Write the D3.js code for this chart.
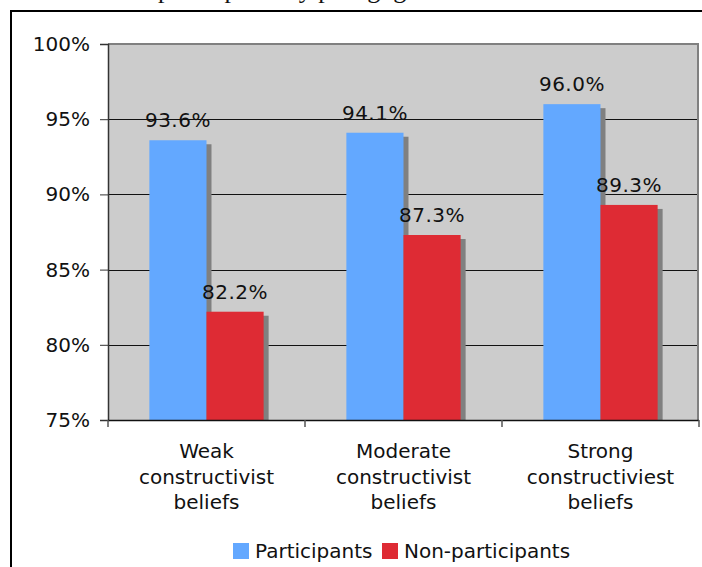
<!DOCTYPE html>
<html>
<head>
<meta charset="utf-8">
<script src="https://cdn.jsdelivr.net/npm/d3@7"></script>
<style>
  body { margin: 0; background: #fff; }
  svg text { font-family: "DejaVu Sans", Verdana, sans-serif; fill: #111; }
</style>
</head>
<body>
<script>
// chart data
const categories = [
    ['Weak', 'constructivist', 'beliefs'],
    ['Moderate', 'constructivist', 'beliefs'],
    ['Strong', 'constructiviest', 'beliefs']
];
const seriesNames = ['Participants', 'Non-participants'];
const participants = [93.6, 94.1, 96.0];
const nonParticipants = [82.2, 87.3, 89.3];
const yTicks = [75, 80, 85, 90, 95, 100];
const colors = ['#63a8ff', '#de2b34'];

const width = 702, height = 567;
const plot = { left: 108, right: 699, top: 44, bottom: 420 };

let svg = d3.select('body')
    .append('svg')
    .attr('width', width)
    .attr('height', height);

// cut-off title at the very top (only descenders show)
svg.append('text')
    .attr('x', 151)
    .attr('y', -2)
    .attr('text-anchor', 'end')
    .style('font-family', '"Liberation Serif", "Times New Roman", serif')
    .style('font-size', '26px')
    .text('Retention rates of');
svg.append('text')
    .attr('x', 158)
    .attr('y', -2)
    .style('font-family', '"Liberation Serif", "Times New Roman", serif')
    .style('font-size', '26px')
    .text('participants by pedagogical beliefs');

// outer frame
svg.append('rect')
    .attr('x', 11)
    .attr('y', 11)
    .attr('width', 720)
    .attr('height', 600)
    .attr('fill', 'none')
    .attr('stroke', '#000')
    .attr('stroke-width', 2);

const x0 = d3.scaleBand()
    .domain(d3.range(categories.length))
    .range([plot.left, plot.right]);

const x1 = d3.scaleBand()
    .domain(seriesNames)
    .range([x0.bandwidth() * 0.21, x0.bandwidth() * 0.79]);

const y = d3.scaleLinear()
    .domain([75, 100])
    .range([plot.bottom, plot.top]);

// plot background
svg.append('rect')
    .attr('x', plot.left)
    .attr('y', plot.top)
    .attr('width', plot.right - plot.left)
    .attr('height', plot.bottom - plot.top)
    .attr('fill', '#cccccc');

// grid lines
svg.append('g')
    .selectAll('line')
    .data(yTicks.filter(t => t > 75 && t < 100))
    .enter()
    .append('line')
    .attr('x1', plot.left)
    .attr('x2', plot.right)
    .attr('y1', d => Math.round(y(d)) + 0.5)
    .attr('y2', d => Math.round(y(d)) + 0.5)
    .attr('stroke', '#111')
    .attr('stroke-width', 1);

// plot border top / right
svg.append('line')
    .attr('x1', plot.left).attr('x2', plot.right)
    .attr('y1', plot.top).attr('y2', plot.top)
    .attr('stroke', '#808080').attr('stroke-width', 2);
svg.append('line')
    .attr('x1', plot.right - 1).attr('x2', plot.right - 1)
    .attr('y1', plot.top).attr('y2', plot.bottom)
    .attr('stroke', '#808080').attr('stroke-width', 2);

const rows = categories.map((c, i) => ({
    i: i,
    values: [participants[i], nonParticipants[i]]
}));

let groups = svg.append('g')
    .selectAll('g')
    .data(rows)
    .enter()
    .append('g')
    .attr('transform', d => `translate(${x0(d.i)},0)`);

// shadows first
groups.selectAll('rect.shadow')
    .data(d => d.values.map((v, k) => ({ name: seriesNames[k], v: v, k: k })))
    .enter()
    .append('rect')
    .attr('class', 'shadow')
    .attr('x', d => x1(d.name) + 5)
    .attr('y', d => y(d.v) + 4)
    .attr('width', x1.bandwidth())
    .attr('height', d => plot.bottom - y(d.v) - 4)
    .attr('fill', '#808080');

groups.selectAll('rect.bar')
    .data(d => d.values.map((v, k) => ({ name: seriesNames[k], v: v, k: k })))
    .enter()
    .append('rect')
    .attr('class', 'bar')
    .attr('x', d => x1(d.name))
    .attr('y', d => y(d.v))
    .attr('width', x1.bandwidth())
    .attr('height', d => plot.bottom - y(d.v))
    .attr('fill', d => colors[d.k]);

groups.selectAll('text.value')
    .data(d => d.values.map((v, k) => ({ name: seriesNames[k], v: v, k: k })))
    .enter()
    .append('text')
    .attr('class', 'value')
    .attr('x', d => x1(d.name) + x1.bandwidth() / 2)
    .attr('y', d => y(d.v) - 13)
    .attr('text-anchor', 'middle')
    .style('font-size', '20px')
    .style('letter-spacing', '0.5px')
    .text(d => d.v.toFixed(1) + '%');

// y axis
let yAxis = svg.append('g')
    .attr('transform', `translate(${plot.left},0)`)
    .call(d3.axisLeft(y).tickValues(yTicks).tickSize(8).tickPadding(10).tickFormat(d => d + '%'));
yAxis.select('.domain').attr('stroke', '#333').attr('stroke-width', 1.5);
yAxis.selectAll('.tick line').attr('stroke', '#333');
yAxis.selectAll('.tick text')
    .style('font-size', '20px')
    .style('font-family', '"DejaVu Sans", Verdana, sans-serif')
    .attr('fill', '#111');

// x axis
svg.append('line')
    .attr('x1', plot.left).attr('x2', plot.right)
    .attr('y1', plot.bottom + 0.5).attr('y2', plot.bottom + 0.5)
    .attr('stroke', '#111').attr('stroke-width', 1.5);

svg.append('g')
    .selectAll('line')
    .data(d3.range(categories.length + 1))
    .enter()
    .append('line')
    .attr('x1', d => d < categories.length ? x0(d) : plot.right)
    .attr('x2', d => d < categories.length ? x0(d) : plot.right)
    .attr('y1', plot.bottom)
    .attr('y2', plot.bottom + 7)
    .attr('stroke', '#555')
    .attr('stroke-width', 1.5);

let catLabels = svg.append('g')
    .selectAll('text')
    .data(categories)
    .enter()
    .append('text')
    .attr('x', (d, i) => x0(i) + x0.bandwidth() / 2)
    .attr('y', 458)
    .attr('text-anchor', 'middle')
    .style('font-size', '20px');

catLabels.selectAll('tspan')
    .data(d => d)
    .enter()
    .append('tspan')
    .attr('x', function () { return this.parentNode.getAttribute('x'); })
    .attr('dy', (d, i) => i === 0 ? 0 : 25.5)
    .text(d => d);

// legend
const legendX = [233, 382];
let legend = svg.append('g')
    .selectAll('g')
    .data(seriesNames)
    .enter()
    .append('g')
    .attr('transform', (d, i) => `translate(${legendX[i]},543)`);

legend.append('rect')
    .attr('width', 16)
    .attr('height', 16)
    .attr('fill', (d, i) => colors[i]);

legend.append('text')
    .attr('x', 22)
    .attr('y', 15)
    .style('font-size', '20px')
    .text(d => d);
</script>
</body>
</html>
